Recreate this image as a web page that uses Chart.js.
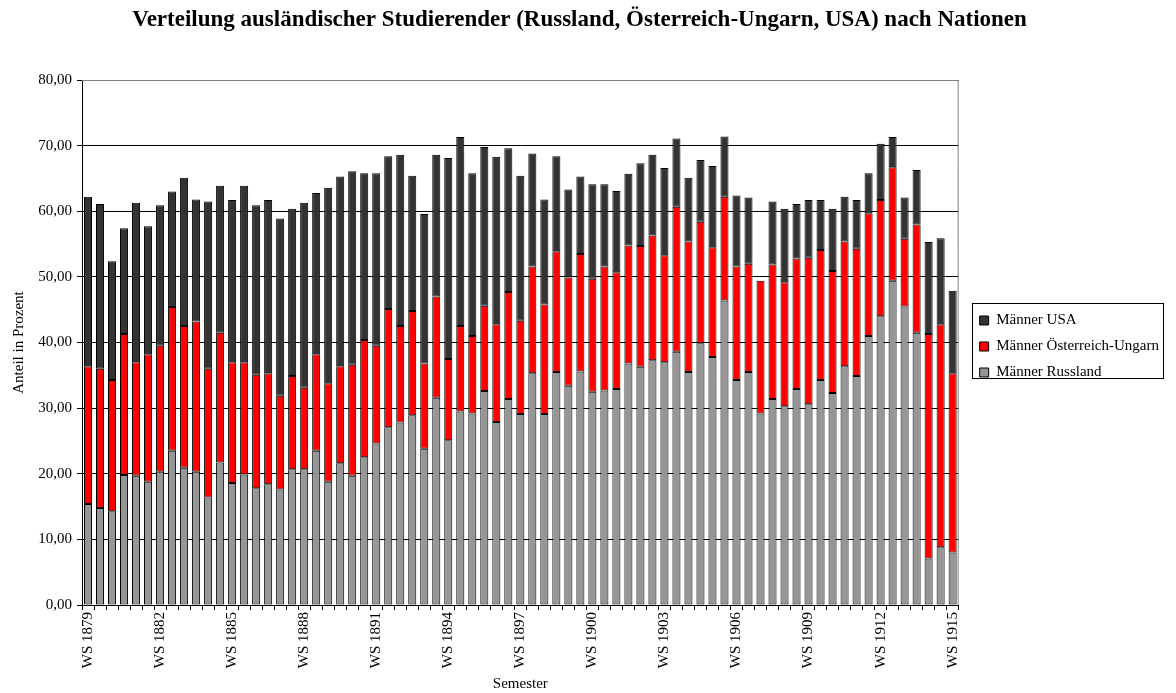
<!DOCTYPE html>
<html>
<head>
<meta charset="utf-8">
<script src="https://cdn.jsdelivr.net/npm/chart.js@4/dist/chart.umd.min.js"></script>
<style>
  body { margin: 0; background: #fff; }
</style>
</head>
<body>
<canvas id="canvas" width="1176" height="693"></canvas>
<script>
// Semester (WS 1879 bis WS 1915)
var semester = [
  'WS 1879','SS 1880','WS 1880','SS 1881','WS 1881','SS 1882',
  'WS 1882','SS 1883','WS 1883','SS 1884','WS 1884','SS 1885',
  'WS 1885','SS 1886','WS 1886','SS 1887','WS 1887','SS 1888',
  'WS 1888','SS 1889','WS 1889','SS 1890','WS 1890','SS 1891',
  'WS 1891','SS 1892','WS 1892','SS 1893','WS 1893','SS 1894',
  'WS 1894','SS 1895','WS 1895','SS 1896','WS 1896','SS 1897',
  'WS 1897','SS 1898','WS 1898','SS 1899','WS 1899','SS 1900',
  'WS 1900','SS 1901','WS 1901','SS 1902','WS 1902','SS 1903',
  'WS 1903','SS 1904','WS 1904','SS 1905','WS 1905','SS 1906',
  'WS 1906','SS 1907','WS 1907','SS 1908','WS 1908','SS 1909',
  'WS 1909','SS 1910','WS 1910','SS 1911','WS 1911','SS 1912',
  'WS 1912','SS 1913','WS 1913','SS 1914','WS 1914','SS 1915',
  'WS 1915'
];

// Anteile in Prozent (je Segment)
var russland = [
  15.4, 14.8, 14.3, 19.8, 19.7, 18.8,
  20.3, 23.5, 20.9, 20.3, 16.4, 21.7,
  18.6, 19.9, 17.8, 18.4, 17.6, 20.7,
  20.7, 23.5, 18.8, 21.6, 19.7, 22.5,
  24.6, 27.1, 27.8, 28.9, 23.8, 31.6,
  25.1, 29.5, 29.2, 32.6, 27.9, 31.4,
  29.1, 35.3, 29.1, 35.5, 33.4, 35.6,
  32.5, 32.7, 32.9, 36.8, 36.3, 37.3,
  37.0, 38.6, 35.5, 39.9, 37.8, 46.4,
  34.3, 35.5, 29.2, 31.4, 30.3, 32.9,
  30.6, 34.3, 32.3, 36.4, 34.9, 41.0,
  44.0, 49.4, 45.5, 41.5, 7.1, 8.8,
  8.0
];
var oesterreich = [
  21.0, 21.2, 20.0, 21.5, 17.3, 19.4,
  19.2, 21.9, 21.6, 22.9, 19.6, 19.8,
  18.4, 17.1, 17.3, 16.9, 14.3, 14.2,
  12.4, 14.7, 15.0, 14.8, 16.9, 17.9,
  14.9, 18.0, 14.7, 15.9, 13.0, 15.4,
  12.4, 13.0, 11.8, 13.0, 14.9, 16.3,
  14.2, 16.3, 16.7, 18.4, 16.5, 17.9,
  17.2, 18.9, 17.8, 18.0, 18.4, 19.0,
  16.3, 22.1, 19.9, 18.5, 16.7, 15.8,
  17.3, 16.5, 20.2, 20.5, 18.9, 19.9,
  22.3, 19.8, 18.6, 19.0, 19.4, 18.7,
  17.7, 17.3, 10.3, 16.5, 34.2, 34.0,
  27.3
];
var usa = [
  25.8, 25.1, 18.1, 16.1, 24.3, 19.5,
  21.4, 17.6, 22.6, 18.6, 25.5, 22.4,
  24.7, 26.9, 25.8, 26.4, 27.0, 25.5,
  28.2, 24.6, 29.8, 28.9, 29.5, 25.4,
  26.3, 23.3, 26.1, 20.6, 22.8, 21.6,
  30.6, 28.8, 24.8, 24.2, 25.5, 21.9,
  22.1, 17.2, 16.0, 14.5, 13.4, 11.8,
  14.4, 12.5, 12.4, 10.9, 12.6, 12.3,
  13.3, 10.4, 9.7, 9.4, 12.4, 9.2,
  10.8, 10.1, 0, 9.6, 11.2, 8.3,
  8.8, 7.6, 9.5, 6.8, 7.4, 6.1,
  8.6, 4.6, 6.3, 8.3, 14.0, 13.1,
  12.6
];

var schrift = 'Liberation Serif, Times New Roman, serif';

// Rahmen um Diagrammfläche (oben/rechts grau) und um die Legende
var rahmenPlugin = {
  id: 'rahmen',
  afterLayout: function(chart) {
    // Legende etwas nach rechts schieben
    chart.legend.left += 10;
    chart.legend.right += 10;
  },
  beforeDatasetsDraw: function(chart) {
    var a = chart.chartArea, ctx = chart.ctx;
    ctx.save();
    ctx.strokeStyle = '#808080';
    ctx.lineWidth = 1;
    ctx.beginPath();
    ctx.moveTo(a.left, a.top + 0.5);
    ctx.lineTo(a.right - 0.5, a.top + 0.5);
    ctx.lineTo(a.right - 0.5, a.bottom);
    ctx.stroke();
    ctx.restore();
  },
  afterDraw: function(chart) {
    var boxes = chart.legend.legendHitBoxes;
    if (!boxes || !boxes.length) return;
    var l = Infinity, r = -Infinity, t = Infinity, b = -Infinity;
    boxes.forEach(function(h) {
      l = Math.min(l, h.left); r = Math.max(r, h.left + h.width);
      t = Math.min(t, h.top); b = Math.max(b, h.top + h.height);
    });
    var ctx = chart.ctx;
    ctx.save();
    ctx.strokeStyle = '#000';
    ctx.lineWidth = 1;
    ctx.strokeRect(Math.round(l - 8) + 0.5, Math.round(t - 10) + 0.5, Math.round(r - l + 12), Math.round(b - t + 8));
    ctx.restore();
  }
};

var ctx = document.getElementById('canvas').getContext('2d');
window.myChart = new Chart(ctx, {
  type: 'bar',
  data: {
    labels: semester,
    datasets: [
      {
        label: 'Männer Russland',
        data: russland,
        backgroundColor: '#969696',
        borderColor: '#000',
        borderWidth: 1,
        borderSkipped: false
      },
      {
        label: 'Männer Österreich-Ungarn',
        data: oesterreich,
        backgroundColor: '#ff0000',
        borderColor: '#000',
        borderWidth: 1,
        borderSkipped: false
      },
      {
        label: 'Männer USA',
        data: usa,
        backgroundColor: '#333333',
        borderColor: '#000',
        borderWidth: 1,
        borderSkipped: false
      }
    ]
  },
  options: {
    responsive: false,
    animation: false,
    devicePixelRatio: 1,
    layout: { padding: { left: 0, right: 17, top: 0, bottom: 0 } },
    datasets: { bar: { categoryPercentage: 1, barPercentage: 0.67 } },
    plugins: {
      title: {
        display: true,
        text: 'Verteilung ausländischer Studierender (Russland, Österreich-Ungarn, USA) nach Nationen',
        color: '#000',
        font: { family: schrift, size: 23, weight: 'bold' },
        padding: { top: 6, bottom: 46.4 }
      },
      legend: {
        position: 'right',
        reverse: true,
        labels: {
          color: '#000',
          font: { family: schrift, size: 15 },
          boxWidth: 9,
          boxHeight: 9,
          padding: 11
        }
      },
      tooltip: { enabled: false }
    },
    scales: {
      x: {
        stacked: true,
        afterFit: function(scale) { scale.height = 88; },
        grid: { offset: true, drawOnChartArea: false, tickLength: 5, color: '#000' },
        border: { color: '#000', width: 1 },
        ticks: {
          autoSkip: false,
          minRotation: 90,
          maxRotation: 90,
          padding: 2,
          color: '#000',
          font: { family: schrift, size: 15 },
          callback: function(v, i) { return i % 6 === 0 ? semester[i] : ''; }
        },
        title: {
          display: true,
          text: 'Semester',
          color: '#000',
          font: { family: schrift, size: 15 },
          padding: { top: 0, bottom: 0 }
        }
      },
      y: {
        stacked: true,
        min: 0,
        max: 80,
        afterFit: function(scale) { scale.width = 82; },
        grid: { color: '#000', tickLength: 5 },
        border: { color: '#000', width: 1 },
        ticks: {
          stepSize: 10,
          padding: 5,
          color: '#000',
          font: { family: schrift, size: 15 },
          callback: function(v) { return v.toFixed(2).replace('.', ','); }
        },
        title: {
          display: true,
          text: 'Anteil in Prozent',
          color: '#000',
          font: { family: schrift, size: 15 },
          padding: { top: 10, bottom: 0 }
        }
      }
    }
  },
  plugins: [rahmenPlugin]
});
</script>
</body>
</html>
